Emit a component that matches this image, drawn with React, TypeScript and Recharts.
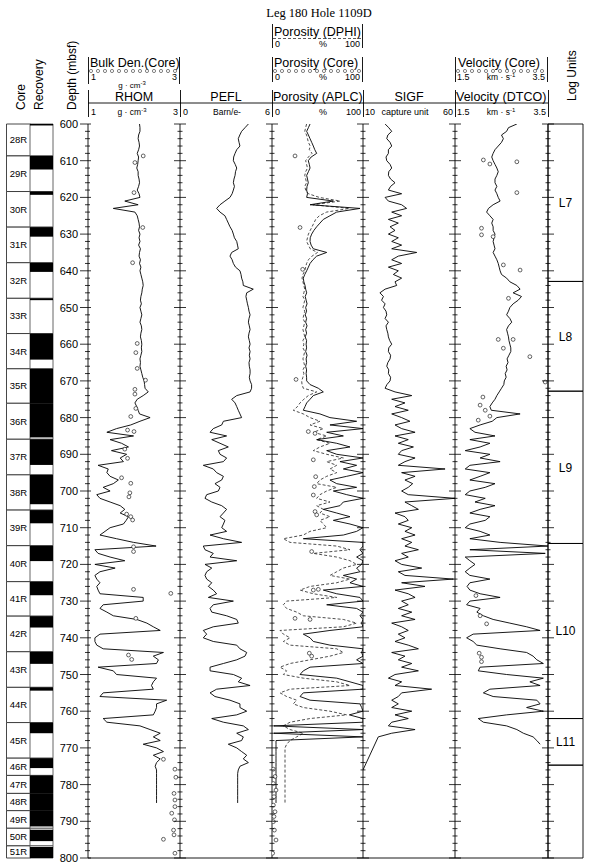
import React from 'react'
import { ComposedChart, Line, Scatter, XAxis, YAxis, ReferenceArea, ReferenceLine } from 'recharts'

// logs are sampled every 1 m starting at LOG_TOP (mbsf)
const LOG_TOP = 600

const RHOM = [
  2.12, 2.13, 2.13, 2.10, 2.09, 2.11, 2.12, 2.10, 2.07, 2.10,
  2.09, 2.08, 2.06, 2.09, 2.09, 2.11, 2.12, 2.10, 2.07, 2.11,
  2.13, 1.80, 2.09, 1.55, 2.02, 2.07, 2.09, 2.11, 2.12, 2.10,
  2.13, 2.11, 2.13, 2.10, 2.14, 2.12, 2.11, 2.14, 2.12, 2.15,
  2.13, 2.15, 2.17, 2.19, 2.20, 2.18, 2.17, 2.15, 2.14, 2.16,
  2.13, 2.15, 2.17, 2.15, 2.13, 2.16, 2.17, 2.15, 2.14, 2.16,
  2.17, 2.16, 2.17, 2.15, 2.13, 2.14, 2.13, 2.15, 2.17, 2.19,
  2.22, 2.23, 2.24, 2.31, 2.20, 2.07, 2.02, 2.06, 2.09, 2.12,
  2.35, 2.13, 1.93, 1.62, 1.41, 1.99, 1.48, 1.73, 1.88, 1.51,
  1.84, 1.70, 1.77, 1.22, 1.44, 1.41, 1.48, 1.66, 1.55, 1.33,
  1.48, 1.19, 1.26, 1.48, 1.70, 1.80, 1.70, 1.88, 1.83, 1.77,
  1.48, 1.37, 1.26, 1.62, 1.99, 2.48, 1.15, 1.22, 1.48, 1.80,
  1.15, 1.59, 1.26, 1.15, 1.19, 1.26, 1.19, 1.22, 1.26, 2.20,
  2.20, 1.33, 1.26, 1.41, 1.55, 2.06, 2.28, 2.42, 2.57, 1.26,
  1.15, 1.15, 1.19, 1.33, 2.64, 2.42, 2.53, 2.49, 1.22, 1.55,
  1.62, 2.49, 2.42, 2.38, 2.42, 1.33, 1.26, 2.71, 2.49, 2.49,
  2.46, 2.42, 1.33, 1.41, 2.13, 2.35, 2.57, 2.42, 2.57, 2.20,
  2.49, 2.64, 2.42, 2.57, 2.49, 2.46, 2.49, 2.49, 2.49, 2.49,
  2.49, 2.49, 2.49, 2.49, 2.49, 2.49,
]

const PEFL = [
  4.46, 4.24, 4.02, 3.90, 3.80, 3.85, 3.91, 3.70, 3.59, 3.50,
  3.48, 3.60, 3.70, 3.62, 3.59, 3.52, 3.48, 3.55, 3.48, 3.40,
  3.26, 2.93, 2.61, 2.39, 2.61, 2.93, 3.04, 3.15, 3.26, 3.40,
  3.48, 3.55, 3.70, 3.75, 3.80, 3.37, 3.26, 3.40, 3.48, 3.62,
  3.91, 3.98, 4.02, 4.10, 4.13, 4.78, 4.35, 4.30, 4.35, 4.40,
  4.46, 4.50, 4.57, 4.50, 4.46, 4.52, 4.57, 4.50, 4.46, 4.52,
  4.57, 4.50, 4.57, 4.52, 4.57, 4.50, 4.52, 4.57, 4.57, 4.52,
  4.57, 4.67, 4.67, 4.57, 3.70, 3.37, 3.59, 3.70, 3.80, 3.91,
  4.02, 2.83, 2.72, 2.17, 1.96, 3.04, 2.07, 2.61, 3.15, 2.50,
  2.61, 3.04, 2.83, 1.52, 2.17, 2.39, 2.83, 2.72, 2.28, 2.61,
  2.50, 1.74, 1.63, 2.07, 2.72, 3.04, 2.83, 2.61, 2.93, 2.83,
  2.72, 3.04, 1.96, 2.83, 4.02, 1.52, 1.63, 2.17, 1.96, 3.70,
  1.63, 2.07, 1.74, 1.63, 1.74, 2.07, 1.85, 2.17, 2.39, 1.85,
  3.48, 2.17, 1.96, 2.07, 3.04, 3.70, 3.80, 2.17, 1.52, 1.74,
  1.52, 2.17, 3.70, 3.91, 4.35, 4.24, 3.70, 2.83, 1.96, 1.96,
  3.48, 4.02, 3.80, 4.57, 2.39, 1.96, 2.28, 3.26, 3.91, 3.91,
  4.35, 3.70, 2.07, 2.83, 4.13, 4.46, 3.70, 4.13, 4.02, 3.15,
  3.70, 4.02, 4.35, 4.13, 4.46, 3.91, 3.80, 3.76, 3.76, 3.76,
  3.76, 3.76, 3.76, 3.76, 3.76, 3.76,
]

const APLC = [
  41.8, 40, 38.1, 40, 41.8, 43.6, 45.4, 47, 49.1, 43,
  39.9, 41, 41.8, 40, 38.1, 39, 39.9, 38.5, 38.1, 39,
  38.1, 67.4, 41.8, 96.7, 71.1, 63.7, 56.4, 52.7, 49.1, 46,
  43.6, 42, 41.8, 43, 45.4, 60.1, 49.1, 45, 41.8, 40,
  38.1, 36, 34.4, 35, 36.3, 37, 38.1, 36.5, 37.5, 38.5,
  37, 38, 36.5, 38, 37, 38.5, 37, 38, 36.5, 38,
  37.5, 38, 37, 38.5, 37.5, 38, 37, 38, 37.5, 38,
  38.1, 41.8, 50.9, 56.4, 45.4, 41.8, 38.1, 36.3, 34.4, 52.7,
  63.7, 93, 63.7, 100, 60.1, 78.4, 49.1, 71.1, 85.7, 60.1,
  71.1, 100, 74.7, 93, 78.4, 100, 82.1, 63.7, 71.1, 93,
  67.4, 82.1, 100, 78.4, 74.7, 56.4, 71.1, 85.7, 67.4, 85.7,
  100, 93, 78.4, 34.4, 100, 100, 96.7, 100, 93, 100,
  98.5, 93, 96.7, 78.4, 93, 85.7, 100, 56.4, 71.1, 96.7,
  100, 60.1, 93, 100, 96.7, 100, 98.5, 100, 63.7, 34.4,
  41.8, 45.4, 63.7, 100, 98.5, 100, 93, 100, 41.8, 34.4,
  30.8, 71.1, 85.7, 100, 100, 34.4, 30.8, 41.8, 96.7, 98.5,
  100, 85, 100, 100, 2.2, 100, 2.2, 100, 4.4, 4.4,
  4.4, 4.4, 4.4, 4.4, 4.4, 4.4, 4.4, 4.4, 4.4, 4.4,
  4.4, 4.4, 4.4, 4.4, 4.4, 4.4,
]

const DPHI = [
  38, 37, 36, 38, 39, 40, 42, 41, 44, 40,
  37, 38, 39, 37, 36, 37, 38, 36, 37, 40,
  52, 75, 45, 85, 60, 52, 48, 46, 44, 42,
  40, 39, 38, 40, 42, 50, 44, 40, 38, 37,
  36, 34, 33, 34, 35, 36, 35, 34, 36, 35,
  34, 36, 35, 34, 36, 35, 34, 35, 36, 34,
  35, 34, 36, 35, 34, 35, 36, 34, 35, 34,
  32.6, 33, 34.4, 49.1, 39.9, 35, 30.8, 28, 23.4, 34.4,
  41.8, 52.7, 41.8, 56.4, 45.4, 60.1, 49.1, 63.7, 52.7, 45.4,
  60.1, 78.4, 60.1, 71.1, 63.7, 71.1, 60.1, 52.7, 49.1, 71.1,
  60.1, 52.7, 49.1, 63.7, 49.1, 56.4, 52.7, 63.7, 52.7, 56.4,
  60.1, 41.8, 34.4, 12.5, 19.8, 71.1, 85.7, 45.4, 71.1, 85.7,
  93, 78.4, 71.1, 63.7, 85.7, 71.1, 41.8, 30.8, 45.4, 71.1,
  16.1, 12.5, 16.1, 27.1, 34.4, 78.4, 93, 78.4, 8.8, 12.5,
  19.8, 12.5, 19.8, 71.1, 78.4, 63.7, 41.8, 19.8, 8.8, 16.1,
  12.5, 34.4, 71.1, 85.7, 19.8, 8.8, 16.1, 27.1, 23.4, 34.4,
  63.7, 82.1, 41.8, 19.8, 12.5, 19.8, 34.4, 27.1, 19.8, 16.1,
  14.3, 14.3, 14.3, 14.3, 14.3, 14.3, 14.3, 14.3, 14.3, 14.3,
  14.3, 14.3, 14.3, 14.3, 14.3, 14.3,
]

const SIGF = [
  22.0, 24.0, 25.6, 23.5, 22.9, 24.7, 25.6, 23.8, 23.8, 22.5,
  22.9, 24.7, 25.6, 24.0, 23.8, 25.0, 27.4, 25.0, 23.8, 31.0,
  22.0, 23.8, 31.0, 33.7, 25.6, 31.0, 23.8, 29.2, 24.7, 27.4,
  23.8, 29.2, 25.6, 31.0, 25.6, 39.2, 29.2, 25.6, 31.0, 23.8,
  29.2, 26.5, 31.0, 27.4, 28.3, 22.0, 19.2, 21.1, 20.1, 22.0,
  21.1, 22.5, 22.9, 22.0, 23.8, 22.5, 22.9, 23.5, 23.8, 24.5,
  25.6, 24.0, 23.8, 25.0, 24.7, 23.5, 22.9, 24.0, 23.8, 25.0,
  24.7, 23.0, 22.0, 27.4, 36.5, 25.6, 32.8, 27.4, 34.6, 25.6,
  31.0, 35.5, 27.4, 31.0, 38.3, 27.4, 34.6, 29.2, 37.4, 31.0,
  29.2, 38.3, 32.8, 29.2, 54.6, 31.0, 38.3, 32.8, 37.0, 34.6,
  31.0, 34.6, 60.0, 32.8, 36.5, 40.1, 27.4, 32.8, 34.6, 29.2,
  36.5, 32.8, 38.3, 31.0, 36.5, 32.8, 40.1, 31.0, 34.6, 27.4,
  31.0, 41.9, 29.2, 32.8, 59.1, 31.0, 43.7, 27.4, 34.6, 38.3,
  31.0, 34.6, 29.2, 36.5, 31.0, 38.3, 25.6, 31.0, 34.6, 29.2,
  32.8, 27.4, 34.6, 40.1, 25.6, 32.8, 29.2, 36.5, 31.0, 40.1,
  27.4, 23.8, 31.0, 27.4, 47.3, 31.0, 29.2, 25.6, 29.2, 25.6,
  36.5, 27.4, 34.6, 25.6, 23.8, 38.3, 25.6, 18.3, null, null,
  null, null, null, null, null, null, 10,
]

const DTCO = [
  2.83, 2.65, 2.61, 2.50, 2.54, 2.50, 2.43, 2.36, 2.32, 2.29,
  2.32, 2.36, 2.40, 2.43, 2.40, 2.36, 2.36, 2.40, 2.36, 2.40,
  2.43, 2.47, 2.32, 2.22, 2.18, 2.25, 2.32, 2.29, 2.32, 2.32,
  2.36, 2.34, 2.32, 2.34, 2.36, 2.32, 2.36, 2.40, 2.43, 2.45,
  2.47, 2.50, 2.61, 2.68, 2.83, 2.90, 2.75, 2.93, 2.86, 2.75,
  2.68, 2.65, 2.61, 2.68, 2.72, 2.65, 2.61, 2.63, 2.65, 2.66,
  2.68, 2.70, 2.70, 2.66, 2.62, 2.64, 2.60, 2.62, 2.58, 2.60,
  2.56, 2.55, 2.50, 2.45, 2.40, 2.36, 2.30, 2.25, 2.28, 2.90,
  2.40, 2.30, 2.04, 1.82, 1.93, 2.36, 1.82, 2.25, 2.04, 1.72,
  2.25, 2.04, 2.47, 1.82, 1.72, 2.25, 2.04, 1.82, 2.36, 2.15,
  1.82, 1.72, 2.15, 1.93, 2.36, 2.04, 1.82, 2.25, 2.15, 1.82,
  1.72, 2.04, 2.25, 1.82, 2.47, 3.50, 1.82, 3.44, 1.72, 1.82,
  1.93, 1.82, 1.72, 1.82, 2.25, 1.82, 1.76, 1.82, 2.04, 2.47,
  1.82, 1.75, 2.04, 1.97, 2.11, 2.32, 2.68, 3.04, 3.33, 1.89,
  1.75, 1.89, 1.97, 2.47, 3.04, 3.18, 3.26, 3.40, 2.04, 2.00,
  2.61, 3.40, 3.11, 3.33, 2.25, 2.11, 2.32, 3.26, 3.33, 3.04,
  3.40, 2.61, 2.00, 2.11, 2.61, 2.83, 2.97, 3.18, 3.26, 3.33,
]

// core (discrete) measurements
const RHOM_CORE_DEPTH = [608.7, 610.5, 618.7, 628.2, 637.8, 659.8, 662.3, 666.6, 669.8, 672.3, 673.6, 677.5, 679.7, 683.4, 683.8, 688.6, 691.1, 696.4, 697.9, 700.5, 701.6, 706.3, 707.0, 707.9, 715.2, 716.5, 726.8, 727.9, 734.7, 744.7, 745.9, 773.1, 775.8, 778.0, 782.4, 784.2, 786.0, 787.8, 789.6, 792.4, 793.7, 794.9, 798.7]
const RHOM_CORE = [2.20, 2.02, 2.00, 2.19, 1.97, 2.07, 2.04, 2.07, 2.25, 2.02, 2.02, 2.04, 1.93, 1.86, 2.00, 1.80, 1.86, 1.73, 1.93, 1.91, 1.89, 1.84, 1.93, 1.97, 1.99, 1.99, 1.99, 2.80, 2.04, 1.88, 1.95, 2.64, 2.89, 2.91, 2.87, 2.89, 2.89, 2.82, 2.88, 2.86, 2.87, 2.64, 2.89]

const POR_CORE_DEPTH = [608.7, 628.2, 639.6, 669.6, 683.8, 684.3, 691.5, 696.1, 698.8, 701.1, 705.6, 706.5, 716.5, 726.8, 727.0, 734.7, 735.0, 744.2, 745.0, 775.8, 777.8, 779.7, 781.5, 783.3, 785.6, 787.4, 788.7, 790.1, 792.4, 795.1, 798.7]
const POR_CORE = [25.3, 30.8, 33.7, 26.4, 39.9, 47.3, 45.4, 48.0, 46.5, 45.4, 47.3, 49.1, 43.6, 50.9, 45.4, 25.3, 41.8, 41.0, 43.6, 1.5, 3.3, 1.5, 4.4, 2.2, 1.5, 3.3, 2.2, 1.5, 2.6, 4.4, 0.7]

const VEL_CORE_DEPTH = [609.8, 610.3, 610.9, 618.7, 628.4, 630.2, 630.7, 638.4, 639.8, 647.5, 658.7, 658.7, 661.1, 663.4, 670.3, 674.4, 676.6, 678.0, 679.6, 680.7, 728.5, 734.0, 736.2, 744.2, 745.3, 746.5]
const VEL_CORE = [2.11, 2.83, 2.25, 2.83, 2.07, 2.07, 2.32, 2.54, 2.90, 2.65, 2.43, 2.75, 2.54, 3.11, 3.44, 2.10, 2.04, 2.15, 2.25, 2.00, 1.95, 2.04, 2.18, 2.02, 2.07, 2.07]

// cores and recovered intervals
const CORE_NAMES = ['28R', '29R', '30R', '31R', '32R', '33R', '34R', '35R', '36R', '37R', '38R', '39R', '40R', '41R', '42R', '43R', '44R', '45R', '46R', '47R', '48R', '49R', '50R', '51R']
const CORE_TOPS = [600, 608.7, 618.4, 628.1, 637.8, 647.5, 657.1, 666.7, 676.1, 685.9, 695.6, 705.2, 714.9, 724.7, 734.1, 743.8, 753.5, 763.1, 772.8, 777.5, 782.4, 787.1, 791.9, 796.7]
const CORE_BOTTOMS = [608.7, 618.4, 628.1, 637.8, 647.5, 657.1, 666.7, 676.1, 685.9, 695.6, 705.2, 714.9, 724.7, 734.1, 743.8, 753.5, 763.1, 772.8, 777.5, 782.4, 787.1, 791.9, 796.7, 800]
const REC_TOPS = [600, 608.7, 618.4, 628.1, 637.8, 647.5, 657.1, 666.7, 676.1, 685.9, 695.6, 705.2, 714.9, 724.7, 734.1, 743.8, 753.5, 763.1, 772.8, 777.5, 782.4, 787.1, 792.3, 797.0]
const REC_BOTTOMS = [600.4, 612.4, 619.3, 630.7, 640.3, 648.0, 664.2, 676.1, 685.4, 692.9, 703.6, 708.8, 719.1, 728.4, 737.2, 747.1, 754.4, 766.0, 775.5, 782.4, 787.1, 791.4, 795.4, 800]

const UNIT_NAMES = ['L7', 'L8', 'L9', 'L10', 'L11', '']
const UNIT_TOPS = [600, 642.9, 672.8, 714.3, 762.0, 774.7]
const UNIT_BOTTOMS = [642.9, 672.8, 714.3, 762.0, 774.7, 800]

const DEPTH_TICKS = Array.from({ length: 101 }, (_, i) => 600 + i * 2)

const W = 590
const H = 866
const PLOT_TOP = 124
const PLOT_BOTTOM = 858

const toPts = (vals: (number | null)[]) => vals.map((v, i) => ({ d: LOG_TOP + i, v }))
const toCore = (ds: number[], vs: number[]) => ds.map((d, i) => ({ d, v: vs[i] }))

const CoreDot = (p: any) => <circle cx={p.cx} cy={p.cy} r={1.9} fill="#fff" stroke="#222" strokeWidth={0.7} />

function DepthTick({ x, y, payload, labels }: any) {
  const major = payload.value % 10 === 0
  const l = labels ? (major ? 8 : 3) : major ? 6 : 2.5
  const r = labels ? (major ? 3 : 2) : major ? 6 : 2.5
  return (
    <g>
      <line x1={x - l} x2={x + r} y1={y} y2={y} stroke="#000" strokeWidth={0.8} />
      {labels && major && (
        <text x={x - 10} y={y + 4} textAnchor="end" fontSize={11} fill="#000">
          {payload.value}
        </text>
      )}
    </g>
  )
}

function Track({ left, right, domain, labels = false, axis = true, children }: any) {
  return (
    <div style={{ position: 'absolute', left: 0, top: 0 }}>
      <ComposedChart
        width={W}
        height={H}
        layout="vertical"
        margin={{ top: PLOT_TOP, bottom: H - PLOT_BOTTOM, left: left - 1, right: W - right }}
      >
        <XAxis type="number" dataKey="v" domain={domain} hide allowDataOverflow />
        <YAxis
          type="number"
          dataKey="d"
          domain={[600, 800]}
          allowDataOverflow
          hide={!axis}
          width={1}
          ticks={DEPTH_TICKS}
          interval={0}
          tickSize={0}
          tickMargin={0}
          tickLine={false}
          axisLine={{ stroke: '#000', strokeWidth: 0.9 }}
          tick={(p: any) => <DepthTick {...p} labels={labels} />}
        />
        {children}
      </ComposedChart>
    </div>
  )
}

const lineProps = { stroke: '#000', strokeWidth: 0.9, dot: false, isAnimationActive: false, type: 'linear' as const }

function Header() {
  const dots = (x0: number, x1: number) => {
    const out = []
    for (let x = x0 + 3; x < x1 - 2; x += 7) out.push(<circle key={x} cx={x} cy={71} r={1.6} fill="#fff" stroke="#333" strokeWidth={0.6} />)
    return out
  }
  const vline = (x: number, y1: number, y2: number) => <line x1={x} x2={x} y1={y1} y2={y2} stroke="#000" strokeWidth={0.9} />
  const sup = (base: string, exp: string) => (
    <>
      {base}
      <tspan dy={-3} fontSize={6}>{exp}</tspan>
    </>
  )
  const divs = [88, 180, 272, 363, 455, 548]
  return (
    <svg width={W} height={H} style={{ position: 'absolute', left: 0, top: 0, pointerEvents: 'none' }}>
      <text x={319} y={17} textAnchor="middle" fontFamily="'Liberation Serif', serif" fontSize={12.5}>
        Leg 180 Hole 1109D
      </text>

      {/* rotated column titles */}
      <text transform="translate(25,110) rotate(-90)" fontSize={12}>Core</text>
      <text transform="translate(43,110) rotate(-90)" fontSize={12}>Recovery</text>
      <text transform="translate(76,110) rotate(-90)" fontSize={12}>Depth (mbsf)</text>
      <text transform="translate(576,101) rotate(-90)" fontSize={12}>Log Units</text>

      {/* DPHI */}
      {vline(272.5, 24, 48)}
      {vline(362.5, 24, 48)}
      <text x={274} y={36} fontSize={12.5}>Porosity (DPHI)</text>
      <line x1={273} x2={362} y1={38.5} y2={38.5} stroke="#333" strokeWidth={0.8} strokeDasharray="3 2" />
      <text x={275} y={47} fontSize={9}>0</text>
      <text x={323} y={47} fontSize={9} textAnchor="middle">%</text>
      <text x={360} y={47} fontSize={9} textAnchor="end">100</text>

      {/* core legends */}
      {vline(88.5, 57, 84)}
      {vline(179.5, 57, 84)}
      <text x={90} y={67} fontSize={12.5}>Bulk Den.(Core)</text>
      {dots(88, 180)}
      <text x={91} y={80} fontSize={9}>1</text>
      <text x={177} y={80} fontSize={9} textAnchor="end">3</text>
      <text x={132} y={87.5} fontSize={8} textAnchor="middle">{sup('g · cm', '-3')}</text>

      {vline(272.5, 57, 82)}
      {vline(362.5, 57, 82)}
      <text x={274} y={67} fontSize={12.5}>Porosity (Core)</text>
      {dots(272, 363)}
      <text x={275} y={80} fontSize={9}>0</text>
      <text x={323} y={80} fontSize={9} textAnchor="middle">%</text>
      <text x={360} y={80} fontSize={9} textAnchor="end">100</text>

      {vline(455.5, 57, 82)}
      {vline(547.5, 57, 82)}
      <text x={458} y={67} fontSize={12.5}>Velocity (Core)</text>
      {dots(455, 548)}
      <text x={457} y={80} fontSize={9}>1.5</text>
      <text x={501} y={80} fontSize={8.5} textAnchor="middle">{sup('km · s', '-1')}</text>
      <text x={545} y={80} fontSize={9} textAnchor="end">3.5</text>

      {/* log curve header row */}
      {divs.map((x) => (
        <line key={x} x1={x + 0.5} x2={x + 0.5} y1={90} y2={117} stroke="#000" strokeWidth={0.9} />
      ))}
      <line x1={88} x2={548} y1={103} y2={103} stroke="#000" strokeWidth={0.9} />
      <text x={134} y={101} fontSize={12.5} textAnchor="middle">RHOM</text>
      <text x={226} y={101} fontSize={12.5} textAnchor="middle">PEFL</text>
      <text x={273} y={101} fontSize={12.5}>Porosity (APLC)</text>
      <text x={409} y={101} fontSize={12.5} textAnchor="middle">SIGF</text>
      <text x={456} y={101} fontSize={12.5}>Velocity (DTCO)</text>

      <text x={91} y={115} fontSize={9}>1</text>
      <text x={132} y={115} fontSize={8.5} textAnchor="middle">{sup('g · cm', '-3')}</text>
      <text x={178} y={115} fontSize={9} textAnchor="end">3</text>
      <text x={183} y={115} fontSize={9}>0</text>
      <text x={227} y={115} fontSize={8.5} textAnchor="middle">Barn/e-</text>
      <text x={270} y={115} fontSize={9} textAnchor="end">6</text>
      <text x={275} y={115} fontSize={9}>0</text>
      <text x={323} y={115} fontSize={9} textAnchor="middle">%</text>
      <text x={361} y={115} fontSize={9} textAnchor="end">100</text>
      <text x={365} y={115} fontSize={9}>10</text>
      <text x={405} y={115} fontSize={9} textAnchor="middle">capture unit</text>
      <text x={453} y={115} fontSize={9} textAnchor="end">60</text>
      <text x={457} y={115} fontSize={9}>1.5</text>
      <text x={501} y={115} fontSize={8.5} textAnchor="middle">{sup('km · s', '-1')}</text>
      <text x={546} y={115} fontSize={9} textAnchor="end">3.5</text>
    </svg>
  )
}

export default function App() {
  return (
    <div
      style={{
        position: 'absolute',
        left: 0,
        top: 0,
        width: W,
        height: H,
        background: '#fff',
        fontFamily: "'Liberation Sans', Arial, sans-serif",
      }}
    >
      {/* core column */}
      <Track left={7.5} right={30.5} domain={[0, 1]} axis={false}>
        {CORE_NAMES.map((name, i) => (
          <ReferenceArea
            key={name}
            y1={CORE_TOPS[i]}
            y2={CORE_BOTTOMS[i]}
            fill="#fff"
            fillOpacity={1}
            stroke="#333"
            strokeWidth={0.9}
            label={{ value: name, position: 'center', fontSize: 9.5, fill: '#000' }}
          />
        ))}
      </Track>

      {/* recovery column */}
      <Track left={31} right={53} domain={[0, 1]} axis={false}>
        {CORE_NAMES.map((name, i) => (
          <ReferenceArea key={name} y1={CORE_TOPS[i]} y2={CORE_BOTTOMS[i]} fill="#fff" fillOpacity={1} stroke="#555" strokeWidth={0.9} />
        ))}
        {REC_TOPS.map((t, i) => (
          <ReferenceArea key={'r' + i} y1={t} y2={REC_BOTTOMS[i]} fill="#000" fillOpacity={1} stroke="none" />
        ))}
      </Track>

      {/* RHOM */}
      <Track left={88} right={180} domain={[1, 3]} labels>
        <ReferenceLine y={800} stroke="#000" strokeWidth={0.9} />
        <Line data={toPts(RHOM)} dataKey="v" {...lineProps} />
        <Scatter data={toCore(RHOM_CORE_DEPTH, RHOM_CORE)} shape={CoreDot} isAnimationActive={false} />
      </Track>

      {/* PEFL */}
      <Track left={180} right={272} domain={[0, 6]}>
        <ReferenceLine y={800} stroke="#000" strokeWidth={0.9} />
        <Line data={toPts(PEFL)} dataKey="v" {...lineProps} />
      </Track>

      {/* Porosity */}
      <Track left={272} right={363} domain={[0, 100]}>
        <ReferenceLine y={800} stroke="#000" strokeWidth={0.9} />
        <Line data={toPts(DPHI)} dataKey="v" {...lineProps} stroke="#222" strokeWidth={0.8} strokeDasharray="3 2" />
        <Line data={toPts(APLC)} dataKey="v" {...lineProps} />
        <Scatter data={toCore(POR_CORE_DEPTH, POR_CORE)} shape={CoreDot} isAnimationActive={false} />
      </Track>

      {/* SIGF */}
      <Track left={363} right={455} domain={[10, 60]}>
        <ReferenceLine y={800} stroke="#000" strokeWidth={0.9} />
        <Line data={toPts(SIGF)} dataKey="v" {...lineProps} connectNulls />
      </Track>

      {/* Velocity */}
      <Track left={455} right={548} domain={[1.5, 3.5]}>
        <ReferenceLine y={800} stroke="#000" strokeWidth={0.9} />
        <Line data={toPts(DTCO)} dataKey="v" {...lineProps} />
        <Scatter data={toCore(VEL_CORE_DEPTH, VEL_CORE)} shape={CoreDot} isAnimationActive={false} />
      </Track>

      {/* Log units */}
      <Track left={548} right={583} domain={[0, 1]}>
        {UNIT_NAMES.map((name, i) => (
          <ReferenceArea
            key={i}
            y1={UNIT_TOPS[i]}
            y2={UNIT_BOTTOMS[i]}
            fill="none"
            stroke="#000"
            strokeWidth={0.9}
            label={name ? { value: name, position: 'center', fontSize: 12, fill: '#000' } : undefined}
          />
        ))}
      </Track>

      <Header />
    </div>
  )
}
